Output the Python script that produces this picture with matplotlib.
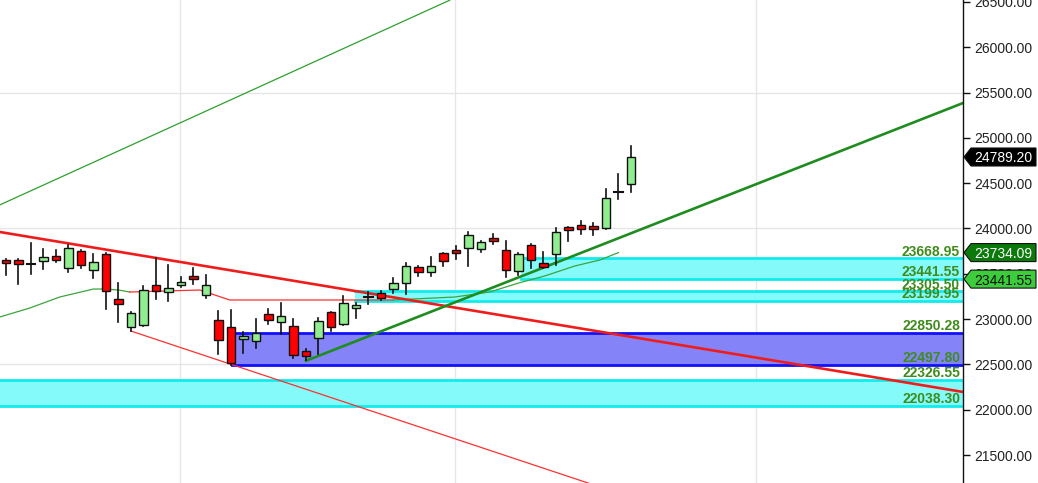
import numpy as np
import matplotlib
matplotlib.use("Agg")
import matplotlib.pyplot as plt
from matplotlib.patches import Rectangle, Polygon
from matplotlib.transforms import blended_transform_factory

plt.rcParams['font.family'] = ['Liberation Sans', 'DejaVu Sans']

# daily candles (open, high, low, close)
opens = [23652, 23652, 23605, 23641, 23696, 23564, 23751, 23542, 23718, 23222,
         22913, 22935, 23376, 23299, 23376, 23476, 23266, 22990, 22913, 22780,
         22758, 23056, 22968, 22924, 22648, 22791, 23078, 22946, 23123, 23240,
         23288, 23332, 23398, 23575, 23520, 23729, 23763, 23785, 23774, 23895,
         23763, 23531, 23818, 23619, 23718, 24016, 24039, 24027, 24005, 24400,
         24491]
highs = [23660, 23660, 23840, 23774, 23763, 23818, 23763, 23718, 23729, 23398,
         23078, 23365, 23674, 23597, 23465, 23564, 23487, 23089, 23100, 22857,
         23001, 23111, 23178, 23001, 22670, 23012, 23078, 23255, 23178, 23299,
         23310, 23454, 23619, 23586, 23685, 23735, 23807, 23961, 23862, 23939,
         23862, 23725, 23825, 23740, 24005, 24020, 24083, 24061, 24436, 24601,
         24910]
lows = [23487, 23387, 23498, 23553, 23630, 23520, 23564, 23454, 23111, 22968,
        22868, 22924, 23222, 23200, 23354, 23387, 23233, 22615, 22497.8, 22626,
        22681, 22946, 22835, 22570, 22545, 22615, 22868, 22935, 23012, 23167,
        23211, 23288, 23277, 23476, 23476, 23586, 23663, 23586, 23740, 23829,
        23465, 23487, 23564, 23564, 23597, 23862, 23939, 23928, 23994, 24326,
        24403]
closes = [23619, 23608, 23610, 23685, 23652, 23785, 23597, 23630, 23310, 23167,
          23067, 23321, 23310, 23343, 23409, 23443, 23376, 22769, 22520, 22813,
          22846, 22990, 23034, 22604, 22593, 22979, 22913, 23178, 23156, 23248,
          23233, 23398, 23586, 23520, 23586, 23641, 23729, 23928, 23851, 23862,
          23542, 23718, 23652, 23575, 23961, 23983, 23994, 23994, 24337, 24405,
          24789.2]

# trend lines: (x index, price)
upper_green_x, upper_green_y = [-0.5, 35.5], [24260, 26520]
support_x, support_y = [24, 80], [22540, 25571]
resist_x, resist_y = [-1, 80], [23973, 22117]
lower_red_x, lower_red_y = [10, 48], [22868, 21125]

# moving average line in three pieces
ma1_x = [-0.5, 1.9, 4.3, 7.0, 7.9, 9.0, 9.9]
ma1_y = [23023, 23122, 23244, 23332, 23332, 23321, 23299]
ma2_x = [9.9, 15.5, 16.0, 17.9, 31.0]
ma2_y = [23299, 23321, 23299, 23211, 23211]
ma3_x = [31.0, 35.9, 38.7, 41.0, 43.1, 45.5, 47.5, 49.0]
ma3_y = [23211, 23244, 23299, 23398, 23476, 23586, 23652, 23734.09]

# zones: start index, low, high
zone_start = [41.2, 27.9, 18.1, -1.0]
zone_low = [23441.55, 23199.95, 22497.80, 22038.30]
zone_high = [23668.95, 23305.50, 22850.28, 22326.55]
zone_kind = ['cyan', 'cyan', 'blue', 'cyan']

grid_x = [13.9, 35.9, 60.0]
grid_y = [22500, 24000, 25500]
yticks = [21500, 22000, 22500, 23000, 23500, 24000, 24500, 25000, 25500, 26000, 26500]

W, H = 1038, 483
fig = plt.figure(figsize=(W / 100, H / 100), dpi=100)
ax = fig.add_axes([0, 0, 963 / W, 1])
xmin, xmax = -0.48, 76.56
ymin, ymax = 21191, 26522
ax.set_xlim(xmin, xmax)
ax.set_ylim(ymin, ymax)

for g in grid_x:
    ax.axvline(g, color='#e6e6e6', lw=1, zorder=0)
for g in grid_y:
    ax.axhline(g, color='#e6e6e6', lw=1, zorder=0)

# zones
for s, lo, hi, k in zip(zone_start, zone_low, zone_high, zone_kind):
    if k == 'blue':
        fc, ec = '#8484f8', '#1010ff'
    else:
        fc, ec = '#84fafa', '#10ecec'
    ax.add_patch(Rectangle((s, lo), xmax + 5 - s, hi - lo, facecolor=fc,
                           edgecolor='none', zorder=1))
    ax.plot([s, xmax + 5], [lo, lo], color=ec, lw=2, zorder=1.5)
    ax.plot([s, xmax + 5], [hi, hi], color=ec, lw=2, zorder=1.5)

# lines
ax.plot(upper_green_x, upper_green_y, color='#2ea02e', lw=0.9, zorder=2)
ax.plot(lower_red_x, lower_red_y, color='#ff3030', lw=0.9, zorder=2)
ax.plot(ma1_x, ma1_y, color='#3aa53a', lw=0.9, zorder=2)
ax.plot(ma2_x, ma2_y, color='#ff3030', lw=0.9, zorder=2)
ax.plot(ma3_x, ma3_y, color='#3aa53a', lw=0.9, zorder=2)
ax.plot(resist_x, resist_y, color='#f01c1c', lw=1.9, zorder=2.5)
ax.plot(support_x, support_y, color='#1e8c1e', lw=1.9, zorder=2.5)

# candles
bw = 0.66
for i in range(len(opens)):
    o, h, l, c = opens[i], highs[i], lows[i], closes[i]
    ax.plot([i, i], [l, h], color='#111111', lw=1.2, zorder=3)
    col = '#90ee90' if c >= o else '#ff0000'
    bot, top = min(o, c), max(o, c)
    if top - bot < 15:
        ax.plot([i - bw / 2, i + bw / 2], [o, o], color='#111111', lw=1.5, zorder=4)
    else:
        ax.add_patch(Rectangle((i - bw / 2, bot), bw, top - bot, facecolor=col,
                               edgecolor='#111111', lw=1.0, zorder=4))

# zone labels
lab_tr = blended_transform_factory(ax.transAxes, ax.transData)
for lo, hi in zip(zone_low, zone_high):
    for v in (hi, lo):
        ax.annotate('%.2f' % v, xy=(0.997, v), xycoords=lab_tr,
                    xytext=(0, 2), textcoords='offset points',
                    ha='right', va='baseline', fontsize=10, fontweight='bold',
                    color='#3f8c1c', zorder=6)

# right axis
for s in ['left', 'top', 'bottom']:
    ax.spines[s].set_visible(False)
ax.spines['right'].set_color('#111111')
ax.spines['right'].set_linewidth(1)
ax.set_xticks([])
ax.yaxis.tick_right()
ax.set_yticks(yticks)
ax.set_yticklabels(['%.2f' % t for t in yticks])
ax.tick_params(axis='y', length=5, width=1, color='#111111', pad=3,
               labelsize=10, labelcolor='#222222')

# price tags on the axis
tag_tr = blended_transform_factory(fig.transFigure, ax.transData)
ppx = (ymax - ymin) / H


def price_tag(val, face, txt):
    h = 9 * ppx
    pts = [(964 / W, val), (971 / W, val + h), (1036 / W, val + h),
           (1036 / W, val - h), (971 / W, val - h)]
    fig.patches.append(Polygon(pts, closed=True, facecolor=face, edgecolor='#111111',
                               lw=0.8, transform=tag_tr, zorder=5))
    fig.text(1003 / W, val, '%.2f' % val, transform=tag_tr, ha='center',
             va='center_baseline', fontsize=10, color=txt, zorder=6)


price_tag(closes[-1], '#000000', 'white')
price_tag(ma3_y[-1], '#0b7a0b', 'white')
price_tag(zone_low[0], '#3ccc3c', '#111111')

fig.savefig('out.png', dpi=100)
